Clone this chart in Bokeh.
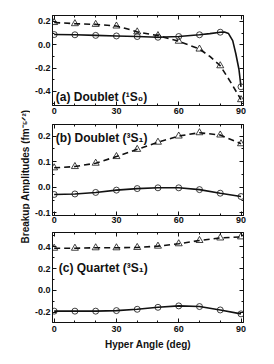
import math
from bokeh.plotting import figure
from bokeh.layouts import row, column
from bokeh.models import (Range1d, FixedTicker, LinearAxis, Label, PrintfTickFormatter,
                          CustomLabelingPolicy)
from bokeh.embed import file_html
from bokeh.resources import INLINE

# ---------------- data ----------------
angles = [0, 10, 20, 30, 40, 50, 60, 70, 80, 90]
x_ticks = [0, 30, 60, 90]
x_minor = [10, 20, 40, 50, 70, 80]

# (a) Doublet 1S0
a_circ = [0.087, 0.085, 0.080, 0.075, 0.070, 0.064, 0.070, 0.085, 0.107, -0.36]
a_tri = [0.19, 0.18, 0.174, 0.16, 0.11, 0.078, 0.03, -0.037, -0.18, -0.47]
a_solid_x = [0, 10, 20, 30, 40, 50, 60, 70, 75, 80, 82, 84, 86, 87.5, 89, 90]
a_solid_y = [0.087, 0.085, 0.080, 0.075, 0.070, 0.064, 0.070, 0.085, 0.095, 0.107,
             0.108, 0.095, 0.035, -0.077, -0.21, -0.36]
a_dash_x = [0, 10, 20, 30, 35, 40, 50, 60, 70, 75, 80, 85, 90]
a_dash_y = [0.19, 0.18, 0.174, 0.16, 0.137, 0.11, 0.078, 0.03, -0.037, -0.1, -0.18, -0.32, -0.47]
a_yticks = [-0.4, -0.2, 0.0, 0.2]
a_yminor = [-0.5, -0.3, -0.1, 0.1]

# (b) Doublet 3S1
b_circ = [-0.028, -0.026, -0.020, -0.011, -0.005, -0.002, -0.002, -0.009, -0.023, -0.036]
b_tri = [0.076, 0.081, 0.094, 0.12, 0.148, 0.176, 0.20, 0.213, 0.204, 0.17]
b_yticks = [-0.1, 0.0, 0.1, 0.2]
b_yminor = [-0.05, 0.05, 0.15]

# (c) Quartet 3S1
c_circ = [-0.19, -0.19, -0.19, -0.185, -0.173, -0.155, -0.142, -0.148, -0.179, -0.215]
c_tri = [0.386, 0.386, 0.39, 0.39, 0.393, 0.405, 0.427, 0.457, 0.48, 0.49]
c_yticks = [-0.2, 0.0, 0.2, 0.4]
c_yminor = [-0.1, 0.1, 0.3, 0.5]

labels = ["(a) Doublet (\u00b9S\u2080)", "(b) Doublet (\u00b3S\u2081)", "(c) Quartet (\u00b3S\u2081)"]
x_label = "Hyper Angle (deg)"
y_label = "Breakup Amplitudes (fm\u207b\u2075\u141f\u00b2)"

FONT = "Liberation Sans"
INK = "#111111"
W = 221  # 22 left border + 191 frame + 8 right border


def style_axis(ax, ticks, minor, fmt, show_labels=True):
    ax.ticker = FixedTicker(ticks=ticks, minor_ticks=minor)
    ax.formatter = PrintfTickFormatter(format=fmt)
    ax.major_tick_in = 4
    ax.major_tick_out = 0
    ax.minor_tick_in = 2
    ax.minor_tick_out = 0
    ax.axis_line_color = INK
    ax.major_tick_line_color = INK
    ax.minor_tick_line_color = INK
    ax.major_label_text_font = FONT
    ax.major_label_text_font_style = "bold"
    ax.major_label_text_color = INK
    ax.major_label_text_font_size = "9px"
    ax.major_label_standoff = 2
    if not show_labels:
        ax.major_label_policy = CustomLabelingPolicy(code="""
            for (const i of indices) { indices.unset(i) }
            return indices
        """)
        ax.major_label_text_font_size = "1px"
        ax.major_label_standoff = 0


def panel(yr, yticks, yminor, circ, tri, solid_x, solid_y, dash_x, dash_y,
          label, lab_x, lab_y, height, top, bottom, standoff, with_xlabel=False):
    p = figure(width=W, height=height,
               x_range=Range1d(-0.8, 91.2), y_range=Range1d(*yr),
               output_backend="svg", toolbar_location=None,
               min_border_left=22, min_border_right=8,
               min_border_top=top, min_border_bottom=bottom)
    p.xgrid.visible = False
    p.ygrid.visible = False
    p.outline_line_color = INK
    xax = p.below[0]
    yax = p.left[0]
    style_axis(xax, x_ticks, x_minor, "%d")
    xax.major_label_standoff = standoff
    style_axis(yax, yticks, yminor, "%.1f")
    top_ax = LinearAxis()
    style_axis(top_ax, x_ticks, x_minor, "%d", show_labels=False)
    p.add_layout(top_ax, "above")
    right_ax = LinearAxis()
    style_axis(right_ax, yticks, yminor, "%.1f", show_labels=False)
    p.add_layout(right_ax, "right")
    if with_xlabel:
        xax.axis_label = x_label
        xax.axis_label_text_font = FONT
        xax.axis_label_text_font_style = "bold"
        xax.axis_label_text_font_size = "10px"
        xax.axis_label_text_color = INK
        xax.axis_label_standoff = 4

    p.line(solid_x, solid_y, line_color=INK, line_width=1.6)
    p.line(dash_x, dash_y, line_color=INK, line_width=1.6, line_dash="6 4")
    p.scatter(angles, circ, marker="circle", size=6, fill_color=None,
              line_color=INK, line_width=0.8)
    p.scatter(angles, tri, marker="triangle", size=7, fill_color=None,
              line_color=INK, line_width=0.8)
    p.add_layout(Label(x=lab_x, y=lab_y, text=label, text_font=FONT,
                       text_font_style="bold", text_font_size="12px",
                       text_color=INK, text_align="left", text_baseline="middle"))
    return p


pa = panel((-0.52, 0.25), a_yticks, a_yminor, a_circ, a_tri,
           a_solid_x, a_solid_y, a_dash_x, a_dash_y,
           labels[0], 0.8, -0.443, 119, 15, 14, 2)
pb = panel((-0.11, 0.245), b_yticks, b_yminor, b_circ, b_tri,
           angles, b_circ, angles, b_tri,
           labels[1], 0.8, 0.194, 109, 5, 13, 1)
pc = panel((-0.294, 0.53), c_yticks, c_yminor, c_circ, c_tri,
           angles, c_circ, angles, c_tri,
           labels[2], 2.2, 0.204, 124, 3, 30, 3, with_xlabel=True)

# narrow figure holding the shared y-axis title
py = figure(width=30, height=352, x_range=Range1d(0, 1), y_range=Range1d(0, 1),
            x_axis_type=None, y_axis_type=None, output_backend="svg",
            toolbar_location=None, min_border=0)
py.xgrid.visible = False
py.ygrid.visible = False
py.outline_line_color = None
py.add_layout(Label(x=0.82, y=0.5, text=y_label, angle=math.pi / 2,
                    text_font=FONT, text_font_style="bold", text_font_size="10px",
                    text_color=INK, text_align="center", text_baseline="middle"))

layout = row(py, column(pa, pb, pc, spacing=0), spacing=0)
open("out.html", "w").write(file_html(layout, INLINE))
